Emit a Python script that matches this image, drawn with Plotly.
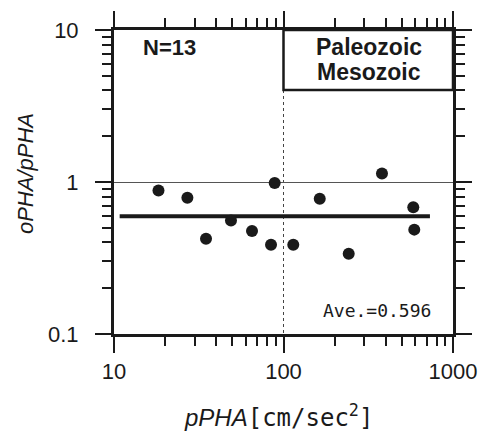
import plotly.graph_objects as go

# Data
p_pha = [18.3, 27.1, 34.9, 49.0, 65.2, 84.4, 88.7, 114.2, 163.6, 242.5, 381, 583, 591]
ratio = [0.880, 0.788, 0.424, 0.559, 0.476, 0.387, 0.985, 0.387, 0.776, 0.3375, 1.139, 0.681, 0.486]
ave_value = 0.596
ave_x = [10.8, 731]
n_label = "N=13"
group_labels = ["Paleozoic", "Mesozoic"]

SANS = "Liberation Sans, Arial, Helvetica, sans-serif"
MONO = "DejaVu Sans Mono, monospace"
INK = "#1a1a1a"

fig = go.Figure()
fig.add_trace(go.Scatter(
    x=ave_x, y=[ave_value, ave_value], mode="lines",
    line=dict(color=INK, width=4), hoverinfo="skip", showlegend=False))
fig.add_trace(go.Scatter(
    x=p_pha, y=ratio, mode="markers",
    marker=dict(color=INK, size=12, line=dict(width=0)), showlegend=False))

axis_common = dict(
    type="log", showline=True, linewidth=2.5, linecolor=INK, mirror="allticks",
    ticks="outside", ticklen=16, tickwidth=2, tickcolor=INK,
    tickfont=dict(family=SANS, size=22, color=INK),
    tickmode="linear", tick0=0, dtick=1,
    minor=dict(ticks="outside", ticklen=9, tickwidth=2, tickcolor=INK, dtick="D1"),
)

fig.update_layout(
    template="none",
    xaxis=dict(**axis_common, range=[1, 3],
               showgrid=True, gridcolor="#444", gridwidth=1, griddash="dot"),
    yaxis=dict(**axis_common, range=[-1, 1], ticksuffix="\u2007",
               showgrid=True, gridcolor="#555", gridwidth=1),
)

# Legend-like box in the upper right
fig.add_shape(type="rect", xref="paper", yref="paper", x0=0.5, x1=1, y0=0.8026, y1=1,
              line=dict(color=INK, width=2.5), fillcolor="white", layer="above")

annotations = [
    dict(text="<b>%s</b>" % n_label, x=0.165, y=0.941, font=dict(family=SANS, size=22, color=INK)),
    dict(text="<b>%s</b>" % group_labels[0], x=0.752, y=0.944, font=dict(family=SANS, size=23, color=INK)),
    dict(text="<b>%s</b>" % group_labels[1], x=0.752, y=0.862, font=dict(family=SANS, size=23, color=INK)),
    dict(text="Ave.=%.3f" % ave_value, x=0.941, y=0.0757, xanchor="right",
         font=dict(family=MONO, size=18, color=INK)),
    dict(text="<i>pPHA</i><span style='font-family:DejaVu Sans Mono, monospace;font-style:normal'>[cm/sec<sup>2</sup>]</span>",
         x=0.484, y=-0.27, font=dict(family=SANS, size=24, color=INK)),
    dict(text="<i>oPHA/pPHA</i>", x=-0.2625, y=0.526, textangle=-90,
         font=dict(family=SANS, size=22, color=INK)),
]
for a in annotations:
    a.setdefault("xanchor", "center")
    fig.add_annotation(xref="paper", yref="paper", yanchor="middle", showarrow=False, **a)

fig.update_layout(
    width=487, height=431,
    margin=dict(l=114, r=34, t=30, b=97),
    paper_bgcolor="white", plot_bgcolor="white",
    showlegend=False,
)

fig.write_html("out.html")
